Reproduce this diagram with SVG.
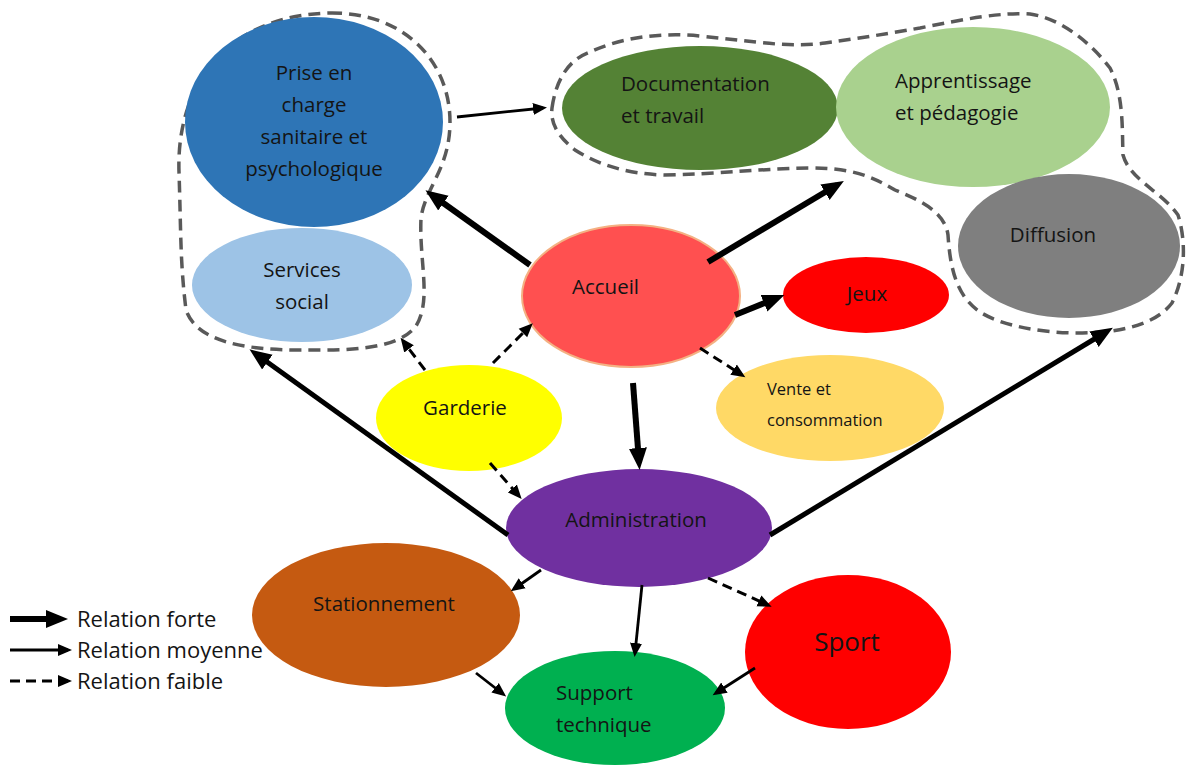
<svg xmlns="http://www.w3.org/2000/svg" width="1187" height="765" viewBox="0 0 1187 765">
<style>
text{font-family:"Open Sans",Lato,"Liberation Sans",sans-serif;font-size:20.5px;fill:#141414}
.c{text-anchor:middle}
.lg{font-size:22px}
.grp{fill:none;stroke:#595959;stroke-width:3.5;stroke-dasharray:12 7}
.s{stroke:#000;stroke-width:6;fill:none}
.s2{stroke:#000;stroke-width:5;fill:none}
.m{stroke:#000;stroke-width:2.8;fill:none}
.w{stroke:#000;stroke-width:3;fill:none;stroke-dasharray:10 6}
</style>
<defs>
<marker id="aS" markerUnits="userSpaceOnUse" markerWidth="24" markerHeight="20" refX="14" refY="10" orient="auto"><path d="M0,1 L22,10 L0,19 Z" fill="#000"/></marker>
<marker id="aM" markerUnits="userSpaceOnUse" markerWidth="16" markerHeight="14" refX="10" refY="7" orient="auto"><path d="M0,1 L14,7 L0,13 Z" fill="#000"/></marker>
</defs>
<rect width="1187" height="765" fill="#fff"/>
<g id="groups">
<path class="grp" d="M330,13 C405,12 450,62 450,122 C450,168 425,188 421,218 C419,262 432,300 416,326 C396,352 340,350 300,350 C240,350 196,340 186,310 C180,262 181,230 179,172 C176,82 230,15 330,13 Z"/>
<path class="grp" d="M552,108 C556,80 568,60 590,52 C620,38 660,32 700,36 C760,42 790,48 825,43 C860,38 880,35 920,28 C960,20 1000,12 1030,14 C1060,18 1090,42 1110,68 C1124,95 1122,130 1123,155 C1130,180 1160,190 1178,215 C1186,240 1186,275 1172,303 C1155,325 1120,333 1077,333 C1040,333 1000,325 980,312 C955,295 950,265 948,235 C945,212 920,200 895,190 C870,175 850,168 810,168 C770,168 720,174 664,175 C630,174 600,166 575,150 C560,138 550,125 552,108 Z"/>
</g>
<g id="n-prise"><ellipse cx="314" cy="122" rx="129" ry="105" fill="#2E75B6"/><text class="c" x="314" y="80">Prise en</text><text class="c" x="314" y="112">charge</text><text class="c" x="314" y="144">sanitaire et</text><text class="c" x="314" y="176">psychologique</text></g>
<g id="n-social"><ellipse cx="302" cy="285" rx="110" ry="57" fill="#9DC3E6"/><text class="c" x="302" y="277">Services</text><text class="c" x="302" y="309">social</text></g>
<g id="n-doc"><ellipse cx="700" cy="108" rx="138" ry="62" fill="#548235"/><text x="621" y="91">Documentation</text><text x="621" y="123">et travail</text></g>
<g id="n-app"><ellipse cx="973" cy="107" rx="137" ry="80" fill="#A9D18E"/><text x="895" y="88">Apprentissage</text><text x="895" y="120">et pédagogie</text></g>
<g id="n-diff"><ellipse cx="1069" cy="246" rx="111" ry="72" fill="#7F7F7F"/><text class="c" x="1053" y="242">Diffusion</text></g>
<g id="n-accueil"><ellipse cx="631" cy="296" rx="109" ry="71" fill="#FF5050" stroke="#F4B183" stroke-width="2"/><text x="572" y="294">Accueil</text></g>
<g id="n-jeux"><ellipse cx="866" cy="295" rx="83" ry="38" fill="#FF0000"/><text class="c" x="867" y="301">Jeux</text></g>
<g id="n-vente"><ellipse cx="830" cy="408" rx="114" ry="53" fill="#FFD966"/><text x="767" y="395" style="font-size:16.5px">Vente et</text><text x="767" y="426" style="font-size:16.5px">consommation</text></g>
<g id="n-garderie"><ellipse cx="469" cy="418" rx="93" ry="53" fill="#FFFF00"/><text class="c" x="465" y="415">Garderie</text></g>
<g id="n-admin"><ellipse cx="639" cy="528" rx="133" ry="59" fill="#7030A0"/><text class="c" x="636" y="527">Administration</text></g>
<g id="n-station"><ellipse cx="386" cy="615" rx="134" ry="72" fill="#C55A11"/><text class="c" x="384" y="611">Stationnement</text></g>
<g id="n-sport"><ellipse cx="848" cy="652" rx="103" ry="77" fill="#FF0000"/><text class="c" x="847" y="651" style="font-size:26px">Sport</text></g>
<g id="n-support"><ellipse cx="615" cy="708" rx="110" ry="57" fill="#00B050"/><text x="556" y="700">Support</text><text x="556" y="732">technique</text></g>
<g id="connectors">
<line class="s" x1="530" y1="265" x2="432" y2="195" marker-end="url(#aS)"/>
<line class="s" x1="708" y1="262" x2="837" y2="185" marker-end="url(#aS)"/>
<line class="s" x1="735" y1="315" x2="777" y2="298" marker-end="url(#aS)"/>
<line class="s" x1="633" y1="383" x2="639" y2="462" marker-end="url(#aS)"/>
<line class="s2" x1="508" y1="535" x2="256" y2="354" marker-end="url(#aS)"/>
<line class="s2" x1="770" y1="535" x2="1106" y2="332" marker-end="url(#aS)"/>
<line class="m" x1="457" y1="117" x2="543" y2="108" marker-end="url(#aM)"/>
<line class="m" x1="541" y1="570" x2="514" y2="589" marker-end="url(#aM)"/>
<line class="m" x1="642" y1="585" x2="635" y2="653" marker-end="url(#aM)"/>
<line class="m" x1="476" y1="673" x2="503" y2="694" marker-end="url(#aM)"/>
<line class="m" x1="755" y1="668" x2="716" y2="693" marker-end="url(#aM)"/>
<line class="w" x1="425" y1="370" x2="403" y2="341" marker-end="url(#aM)"/>
<line class="w" x1="493" y1="363" x2="530" y2="326" marker-end="url(#aM)"/>
<line class="w" x1="490" y1="463" x2="519" y2="496" marker-end="url(#aM)"/>
<line class="w" x1="700" y1="348" x2="742" y2="375" marker-end="url(#aM)"/>
<line class="w" x1="708" y1="578" x2="768" y2="605" marker-end="url(#aM)"/>
</g>
<g id="legend">
<line class="s" x1="10" y1="619" x2="60" y2="619" marker-end="url(#aS)"/>
<line class="m" x1="10" y1="650" x2="68" y2="650" marker-end="url(#aM)"/>
<line class="w" x1="10" y1="681" x2="68" y2="681" marker-end="url(#aM)"/>
<text class="lg" x="77" y="627">Relation forte</text>
<text class="lg" x="77" y="658">Relation moyenne</text>
<text class="lg" x="77" y="689">Relation faible</text>
</g>
</svg>
